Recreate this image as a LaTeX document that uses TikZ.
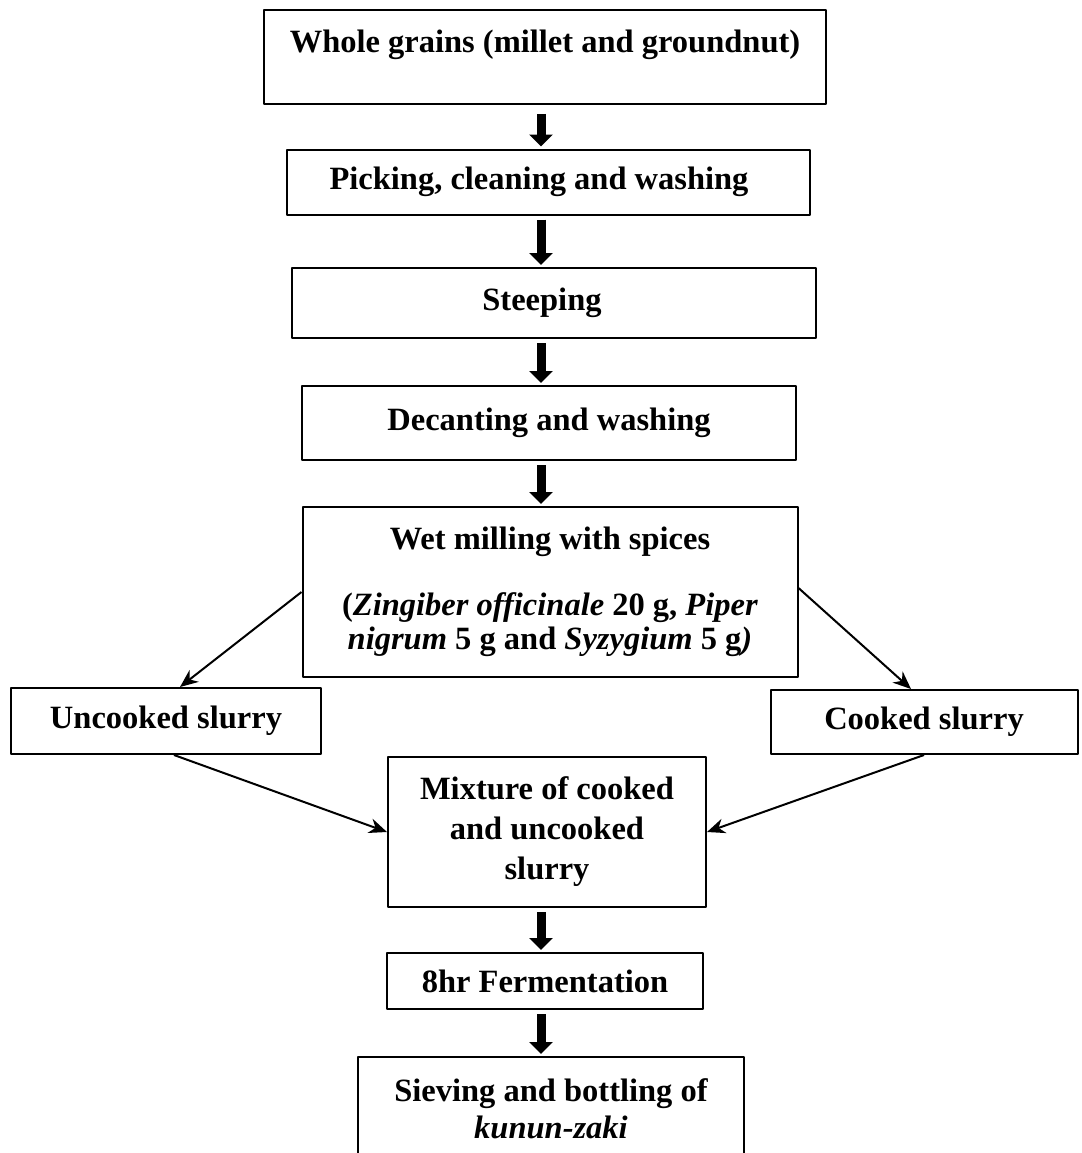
\documentclass[tikz,border=0pt]{standalone}
\usepackage{fontspec}
\setmainfont{Liberation Serif}
\usetikzlibrary{arrows.meta}
\begin{document}
\begin{tikzpicture}[x=1pt, y=-1pt, line join=round, font=\fontsize{32.5}{38}\selectfont\bfseries]
	\tikzset{box/.style={draw, line width=2pt, rectangle, align=center, inner sep=0pt},
		flow/.style={line width=9pt, -{Triangle[width=23pt,length=12pt]}, shorten <=4pt, shorten >=2pt},
		link/.style={line width=2pt, -{Stealth[length=18pt,width=15pt]}}}
	\useasboundingbox (0,0) rectangle (1081,1153);
	\coordinate (spine) at (541,0);
	% main line
	\node[box, minimum width=562, minimum height=94, text height=24pt, text depth=32pt] (whole) at (545,57) {Whole grains (millet and groundnut)};
	\node[box, minimum width=523, minimum height=65] (picking) at (548,182) {Picking, cleaning and washing\hspace{18pt}};
	\node[box, minimum width=524, minimum height=70] (steeping) at (554,303) {Steeping\hspace{24pt}};
	\node[box, minimum width=494, minimum height=74] (decanting) at (549,423) {Decanting and washing};
	\node[box, minimum width=495, minimum height=170, font=\fontsize{32.5}{34}\selectfont\bfseries] (milling) at (550,592)
		{Wet milling with spices\\[32pt](\textit{Zingiber officinale} 20 g, \textit{Piper}\\\textit{nigrum} 5 g and \textit{Syzygium} 5 g\textit{)}};
	% two slurries
	\node[box, minimum width=310, minimum height=66] (uncooked) at (166,721) {Uncooked slurry};
	\node[box, minimum width=307, minimum height=64] (cooked) at (924,722) {Cooked slurry};
	\node[box, minimum width=318, minimum height=150, font=\fontsize{32.5}{40}\selectfont\bfseries] (mixture) at (547,832)
		{Mixture of cooked\\and uncooked\\slurry};
	\node[box, minimum width=316, minimum height=56] (ferment) at (545,981) {8hr Fermentation};
	\node[box, minimum width=386, minimum height=104, font=\fontsize{32.5}{37}\selectfont\bfseries] (sieving) at (551,1109)
		{Sieving and bottling of\\\textit{kunun-zaki}};
	% arrows
	\foreach \a/\b in {picking/steeping, steeping/decanting, decanting/milling, mixture/ferment, ferment/sieving}
		\draw[flow] (spine |- \a.south) -- (spine |- \b.north);
	\draw[flow, shorten <=9pt] (spine |- whole.south) -- (spine |- picking.north);
	\draw[link] (milling.west) -- ([xshift=14pt]uncooked.north);
	\draw[link] ([yshift=4pt]milling.east) -- ([xshift=-13pt]cooked.north);
	\draw[link] ([xshift=8pt]uncooked.south) -- (mixture.west);
	\draw[link] (cooked.south) -- (mixture.east);
\end{tikzpicture}
\end{document}
